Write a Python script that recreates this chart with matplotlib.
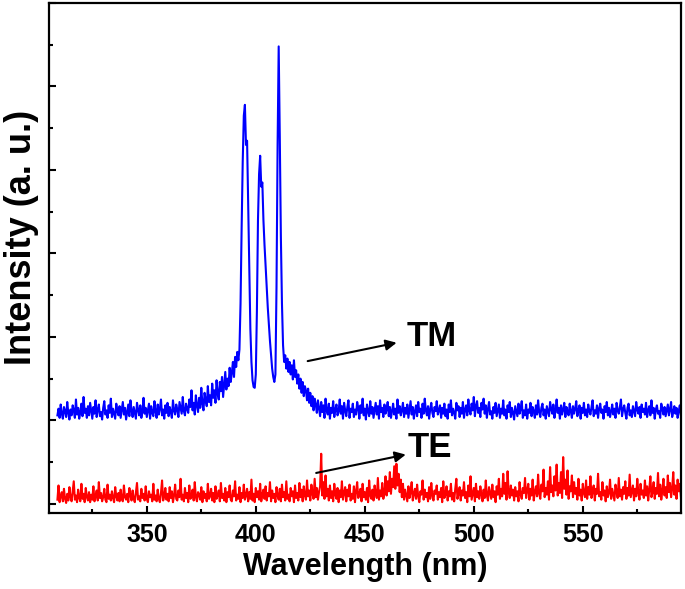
import numpy as np
import matplotlib
matplotlib.use("Agg")
import matplotlib.pyplot as plt
from matplotlib.ticker import MultipleLocator, NullFormatter

plt.rcParams['font.family'] = ['Liberation Sans', 'DejaVu Sans']
plt.rcParams['font.weight'] = 'bold'

# wavelength grid (nm), 0.5 nm steps
wavelength = np.arange(309, 595.01, 0.5)

# TM spectrum (offset by 1 unit), one row = 5 nm
tm = [
    1.06, 1.14, 1.03, 1.19, 1.08, 1.02, 1.16, 1.11, 1.04, 1.22,
    1.09, 1.01, 1.13, 1.06, 1.18, 1.12, 1.03, 1.25, 1.07, 1.15,
    1.02, 1.10, 1.20, 1.05, 1.28, 1.09, 1.14, 1.03, 1.17, 1.06,
    1.21, 1.11, 1.02, 1.16, 1.08, 1.24, 1.04, 1.13, 1.19, 1.05,
    1.10, 1.01, 1.15, 1.23, 1.07, 1.12, 1.03, 1.18, 1.09, 1.26,
    1.04, 1.14, 1.08, 1.02, 1.20, 1.11, 1.06, 1.17, 1.03, 1.13,
    1.22, 1.07, 1.15, 1.01, 1.10, 1.19, 1.05, 1.24, 1.12, 1.04,
    1.16, 1.09, 1.02, 1.21, 1.13, 1.06, 1.18, 1.03, 1.11, 1.27,
    1.08, 1.15, 1.04, 1.12, 1.20, 1.02, 1.17, 1.09, 1.05, 1.23,
    1.11, 1.03, 1.19, 1.07, 1.14, 1.25, 1.06, 1.13, 1.02, 1.18,
    1.09, 1.21, 1.05, 1.16, 1.10, 1.03, 1.24, 1.12, 1.07, 1.19,
    1.13, 1.04, 1.22, 1.15, 1.08, 1.28, 1.11, 1.06, 1.20, 1.14,
    1.09, 1.25, 1.16, 1.36, 1.12, 1.21, 1.07, 1.30, 1.18, 1.10,
    1.27, 1.15, 1.39, 1.20, 1.12, 1.33, 1.24, 1.17, 1.41, 1.22,
    1.30, 1.18, 1.44, 1.27, 1.36, 1.21, 1.48, 1.32, 1.25, 1.46,
    1.35, 1.52, 1.28, 1.43, 1.58, 1.37, 1.50, 1.41, 1.63, 1.46,
    1.57, 1.70, 1.52, 1.76, 1.64, 1.82, 1.72, 1.85, 2.40, 3.30,
    4.10, 4.65, 4.78, 4.30, 4.35, 3.60, 2.80, 2.10, 1.70, 1.48,
    1.40, 1.39, 1.55, 2.30, 3.40, 3.95, 4.17, 3.80, 3.85, 3.40,
    3.10, 2.85, 2.60, 2.35, 2.15, 1.95, 1.78, 1.62, 1.52, 1.46,
    1.55, 2.60, 4.30, 5.48, 4.40, 3.20, 2.40, 1.90, 1.70, 1.78,
    1.62, 1.74, 1.58, 1.70, 1.55, 1.66, 1.49, 1.72, 1.52, 1.60,
    1.44, 1.55, 1.38, 1.50, 1.33, 1.46, 1.29, 1.41, 1.36, 1.24,
    1.38, 1.21, 1.33, 1.17, 1.29, 1.12, 1.26, 1.19, 1.09, 1.24,
    1.14, 1.05, 1.22, 1.10, 1.18, 1.03, 1.26, 1.12, 1.07, 1.20,
    1.02, 1.15, 1.09, 1.23, 1.04, 1.13, 1.19, 1.06, 1.11, 1.25,
    1.08, 1.17, 1.02, 1.21, 1.12, 1.05, 1.16, 1.24, 1.03, 1.14,
    1.10, 1.20, 1.04, 1.13, 1.07, 1.22, 1.15, 1.02, 1.18, 1.09,
    1.26, 1.06, 1.14, 1.01, 1.19, 1.11, 1.05, 1.23, 1.08, 1.16,
    1.03, 1.12, 1.21, 1.07, 1.17, 1.02, 1.24, 1.10, 1.15, 1.04,
    1.19, 1.08, 1.13, 1.22, 1.05, 1.16, 1.03, 1.11, 1.20, 1.07,
    1.14, 1.02, 1.25, 1.09, 1.17, 1.06, 1.12, 1.21, 1.04, 1.15,
    1.08, 1.19, 1.03, 1.13, 1.23, 1.07, 1.16, 1.02, 1.11, 1.18,
    1.05, 1.22, 1.10, 1.14, 1.03, 1.20, 1.08, 1.26, 1.12, 1.06,
    1.17, 1.02, 1.13, 1.21, 1.09, 1.04, 1.16, 1.11, 1.23, 1.07,
    1.12, 1.18, 1.03, 1.15, 1.08, 1.20, 1.05, 1.13, 1.02, 1.19,
    1.10, 1.24, 1.06, 1.14, 1.09, 1.02, 1.21, 1.12, 1.17, 1.04,
    1.15, 1.08, 1.22, 1.03, 1.13, 1.18, 1.06, 1.25, 1.11, 1.07,
    1.20, 1.12, 1.28, 1.05, 1.17, 1.23, 1.09, 1.15, 1.04, 1.21,
    1.13, 1.26, 1.08, 1.18, 1.03, 1.14, 1.22, 1.07, 1.11, 1.02,
    1.16, 1.09, 1.21, 1.05, 1.12, 1.19, 1.03, 1.14, 1.08, 1.24,
    1.06, 1.13, 1.02, 1.18, 1.10, 1.22, 1.04, 1.15, 1.09, 1.01,
    1.17, 1.11, 1.05, 1.20, 1.08, 1.14, 1.23, 1.03, 1.12, 1.06,
    1.19, 1.02, 1.13, 1.09, 1.21, 1.05, 1.16, 1.11, 1.03, 1.18,
    1.07, 1.24, 1.10, 1.04, 1.15, 1.20, 1.06, 1.13, 1.02, 1.17,
    1.11, 1.05, 1.22, 1.14, 1.08, 1.19, 1.03, 1.12, 1.25, 1.09,
    1.15, 1.02, 1.18, 1.07, 1.13, 1.21, 1.04, 1.16, 1.10, 1.06,
    1.20, 1.11, 1.03, 1.17, 1.08, 1.14, 1.23, 1.05, 1.12, 1.18,
    1.02, 1.15, 1.09, 1.21, 1.06, 1.13, 1.04, 1.19, 1.11, 1.07,
    1.16, 1.24, 1.05, 1.12, 1.08, 1.18, 1.03, 1.14, 1.20, 1.09,
    1.13, 1.02, 1.17, 1.10, 1.22, 1.06, 1.15, 1.04, 1.11, 1.19,
    1.07, 1.14, 1.03, 1.21, 1.12, 1.08, 1.16, 1.25, 1.05, 1.13,
    1.18, 1.09, 1.02, 1.15, 1.20, 1.06, 1.12, 1.04, 1.17, 1.11,
    1.05, 1.22, 1.13, 1.08, 1.16, 1.03, 1.19, 1.10, 1.14, 1.07,
    1.21, 1.04, 1.12, 1.17, 1.06, 1.24, 1.09, 1.15, 1.02, 1.13,
    1.18, 1.08, 1.11, 1.03, 1.20, 1.14, 1.07, 1.16, 1.05, 1.12,
    1.19, 1.06, 1.13, 1.22, 1.04, 1.10, 1.17, 1.08, 1.15, 1.03,
    1.11, 1.18, 1.06,
]

# TE spectrum, one row = 5 nm
te = [
    0.05, 0.22, 0.02, 0.09, 0.14, 0.03, 0.18, 0.06, 0.01, 0.12,
    0.04, 0.20, 0.08, 0.03, 0.15, 0.27, 0.05, 0.10, 0.02, 0.17,
    0.07, 0.03, 0.24, 0.06, 0.12, 0.02, 0.19, 0.08, 0.04, 0.14,
    0.02, 0.11, 0.05, 0.21, 0.03, 0.09, 0.16, 0.04, 0.26, 0.07,
    0.13, 0.03, 0.08, 0.18, 0.05, 0.02, 0.23, 0.06, 0.11, 0.04,
    0.15, 0.07, 0.02, 0.20, 0.09, 0.04, 0.13, 0.03, 0.17, 0.06,
    0.03, 0.22, 0.08, 0.05, 0.12, 0.02, 0.19, 0.10, 0.04, 0.16,
    0.06, 0.02, 0.14, 0.25, 0.05, 0.09, 0.03, 0.18, 0.07, 0.12,
    0.04, 0.21, 0.06, 0.02, 0.15, 0.08, 0.11, 0.03, 0.24, 0.05,
    0.10, 0.03, 0.17, 0.06, 0.02, 0.13, 0.28, 0.04, 0.09, 0.19,
    0.05, 0.12, 0.03, 0.20, 0.07, 0.15, 0.02, 0.10, 0.23, 0.06,
    0.04, 0.16, 0.08, 0.30, 0.05, 0.11, 0.03, 0.19, 0.07, 0.13,
    0.02, 0.22, 0.06, 0.09, 0.17, 0.04, 0.26, 0.08, 0.03, 0.14,
    0.11, 0.05, 0.20, 0.02, 0.15, 0.07, 0.12, 0.03, 0.24, 0.06,
    0.09, 0.18, 0.04, 0.13, 0.02, 0.21, 0.06, 0.10, 0.16, 0.03,
    0.25, 0.07, 0.12, 0.04, 0.19, 0.02, 0.14, 0.08, 0.22, 0.05,
    0.03, 0.16, 0.09, 0.27, 0.04, 0.11, 0.06, 0.20, 0.02, 0.13,
    0.07, 0.23, 0.05, 0.10, 0.18, 0.03, 0.14, 0.06, 0.29, 0.04,
    0.12, 0.02, 0.19, 0.08, 0.15, 0.05, 0.24, 0.03, 0.11, 0.17,
    0.06, 0.21, 0.04, 0.13, 0.09, 0.26, 0.03, 0.16, 0.07, 0.12,
    0.02, 0.20, 0.10, 0.05, 0.18, 0.03, 0.23, 0.08, 0.14, 0.04,
    0.27, 0.06, 0.11, 0.03, 0.19, 0.09, 0.15, 0.02, 0.22, 0.07,
    0.13, 0.04, 0.25, 0.08, 0.17, 0.03, 0.21, 0.10, 0.05, 0.28,
    0.09, 0.16, 0.04, 0.23, 0.12, 0.06, 0.30, 0.08, 0.19, 0.05,
    0.14, 0.21, 0.60, 0.10, 0.26, 0.06, 0.34, 0.09, 0.18, 0.04,
    0.22, 0.07, 0.15, 0.03, 0.24, 0.11, 0.06, 0.19, 0.02, 0.16,
    0.08, 0.27, 0.05, 0.13, 0.20, 0.03, 0.17, 0.09, 0.23, 0.04,
    0.12, 0.06, 0.21, 0.02, 0.15, 0.26, 0.07, 0.11, 0.18, 0.03,
    0.24, 0.08, 0.14, 0.05, 0.19, 0.02, 0.28, 0.10, 0.06, 0.17,
    0.04, 0.22, 0.12, 0.07, 0.31, 0.05, 0.16, 0.09, 0.25, 0.06,
    0.13, 0.33, 0.10, 0.27, 0.15, 0.38, 0.12, 0.30, 0.20, 0.45,
    0.18, 0.48, 0.22, 0.36, 0.14, 0.29, 0.08, 0.24, 0.05, 0.17,
    0.10, 0.03, 0.21, 0.07, 0.14, 0.26, 0.04, 0.12, 0.18, 0.06,
    0.23, 0.09, 0.02, 0.15, 0.11, 0.28, 0.05, 0.17, 0.08, 0.13,
    0.03, 0.20, 0.06, 0.25, 0.10, 0.04, 0.16, 0.12, 0.22, 0.05,
    0.14, 0.08, 0.19, 0.02, 0.27, 0.07, 0.11, 0.21, 0.04, 0.15,
    0.09, 0.24, 0.05, 0.13, 0.03, 0.18, 0.30, 0.06, 0.12, 0.20,
    0.04, 0.16, 0.10, 0.26, 0.07, 0.14, 0.02, 0.22, 0.09, 0.33,
    0.05, 0.12, 0.19, 0.03, 0.24, 0.08, 0.15, 0.06, 0.21, 0.11,
    0.03, 0.17, 0.07, 0.28, 0.10, 0.04, 0.20, 0.13, 0.06, 0.23,
    0.08, 0.15, 0.02, 0.21, 0.11, 0.30, 0.06, 0.18, 0.09, 0.36,
    0.12, 0.25, 0.05, 0.39, 0.14, 0.07, 0.22, 0.10, 0.17, 0.04,
    0.20, 0.09, 0.15, 0.03, 0.26, 0.11, 0.06, 0.19, 0.13, 0.31,
    0.07, 0.16, 0.24, 0.05, 0.18, 0.10, 0.29, 0.04, 0.14, 0.21,
    0.09, 0.35, 0.12, 0.06, 0.23, 0.15, 0.41, 0.08, 0.19, 0.11,
    0.27, 0.05, 0.44, 0.14, 0.22, 0.09, 0.33, 0.16, 0.47, 0.10,
    0.25, 0.13, 0.38, 0.07, 0.56, 0.18, 0.29, 0.11, 0.40, 0.06,
    0.21, 0.15, 0.34, 0.08, 0.26, 0.12, 0.19, 0.05, 0.30, 0.10,
    0.17, 0.04, 0.24, 0.13, 0.08, 0.28, 0.06, 0.20, 0.11, 0.33,
    0.07, 0.15, 0.22, 0.04, 0.18, 0.12, 0.36, 0.09, 0.14, 0.05,
    0.26, 0.10, 0.16, 0.03, 0.21, 0.08, 0.13, 0.29, 0.06, 0.18,
    0.11, 0.04, 0.23, 0.14, 0.07, 0.31, 0.09, 0.17, 0.05, 0.20,
    0.12, 0.27, 0.06, 0.19, 0.10, 0.35, 0.08, 0.15, 0.22, 0.04,
    0.18, 0.09, 0.30, 0.13, 0.05, 0.24, 0.11, 0.16, 0.07, 0.28,
    0.10, 0.21, 0.04, 0.17, 0.33, 0.08, 0.14, 0.26, 0.06, 0.19,
    0.12, 0.37, 0.09, 0.23, 0.05, 0.16, 0.30, 0.10, 0.20, 0.07,
    0.34, 0.14, 0.25, 0.08, 0.18, 0.38, 0.11, 0.22, 0.06, 0.29,
    0.15, 0.24, 0.09,
]

fig = plt.figure(figsize=(6.85, 5.89), dpi=100)
ax = fig.add_axes([0.0711, 0.129, 0.9229, 0.8659])

ax.plot(wavelength, tm, color='#0000ff', lw=1.5)
ax.plot(wavelength, te, color='#ff0000', lw=1.5)

ax.set_xlim(305, 595)
ax.set_ylim(-0.11, 6.0)

ax.xaxis.set_major_locator(MultipleLocator(50))
ax.xaxis.set_minor_locator(MultipleLocator(25))
ax.yaxis.set_major_locator(MultipleLocator(1))
ax.yaxis.set_minor_locator(MultipleLocator(0.5))
ax.yaxis.set_major_formatter(NullFormatter())

ax.tick_params(which='both', direction='in', top=False, right=False, width=1.5)
ax.tick_params(which='major', length=5)
ax.tick_params(which='minor', length=3)
ax.tick_params(axis='x', labelsize=18, pad=7)
for s in ax.spines.values():
    s.set_linewidth(1.6)

ax.set_xlabel('Wavelength (nm)', fontsize=22, fontweight='bold', labelpad=4)
ax.set_ylabel('Intensity (a. u.)', fontsize=26, fontweight='bold')
ax.yaxis.set_label_coords(-0.016, 0.54)

arrow = dict(arrowstyle='-|>', color='black', lw=1.5, mutation_scale=16,
             shrinkA=0, shrinkB=0)
ax.annotate('', xy=(464.6, 1.93), xytext=(423.8, 1.71), arrowprops=arrow)
ax.annotate('', xy=(468.8, 0.59), xytext=(427.7, 0.37), arrowprops=arrow)
ax.text(469.4, 2.01, 'TM', fontsize=25, fontweight='bold', va='center', ha='left')
ax.text(469.8, 0.67, 'TE', fontsize=25, fontweight='bold', va='center', ha='left')

fig.savefig('out.png', dpi=100)
